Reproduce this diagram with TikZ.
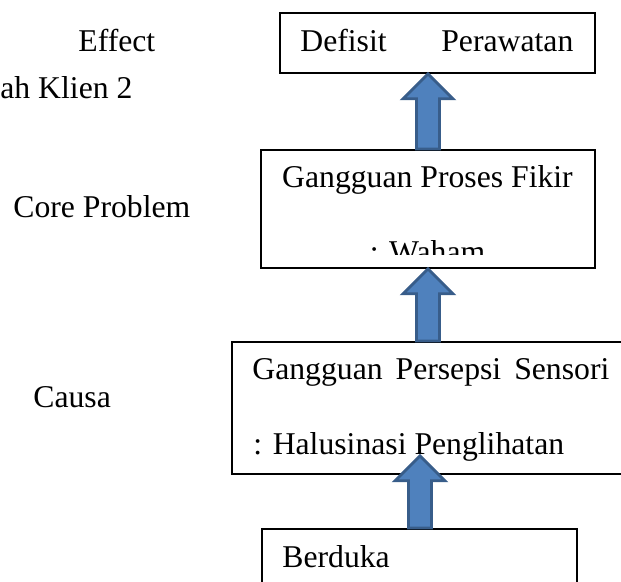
\documentclass[tikz,border=0pt]{standalone}
\usepackage{fontspec}
\setmainfont{Liberation Serif}
\usetikzlibrary{calc}

\definecolor{arrfill}{RGB}{79,129,189}
\definecolor{arrline}{RGB}{56,93,138}

% block arrow pointing up: #1 = tail, #2 = tip
\newcommand{\uparr}[2]{%
  \draw[blockarr] ($(#1)+(-11.5,0)$) -- ($(#2)+(-11.5,25)$) -- ($(#2)+(-25,25)$)
    -- (#2) -- ($(#2)+(25,25)$) -- ($(#2)+(11.5,25)$) -- ($(#1)+(11.5,0)$) -- cycle;}

\begin{document}
\begin{tikzpicture}[
    x=0.5pt, y=-0.5pt,
    box/.style={draw, line width=0.9pt, inner sep=0pt},
    lbl/.style={font=\fontsize{15.85}{19}\selectfont, inner sep=0pt},
    blockarr/.style={fill=arrfill, draw=arrline, line width=1.4pt, line join=miter}
]
  \useasboundingbox (0,0) rectangle (621,582);
  \clip (0,0) rectangle (621,582);
  % Side labels
  \node[lbl, anchor=base west] (effect) at (78,52) {Effect};
  \node[lbl, anchor=base west] (klien) at (0,99) {ah Klien 2};
  \node[lbl, anchor=base west] (core) at (13,218) {Core Problem};
  \node[lbl, anchor=base west] (causa) at (33,408) {Causa};
  % Boxes
  \node[box, anchor=north west, minimum width=157.5pt, minimum height=30pt] (defisit) at (279,12) {};
  \node[box, anchor=north west, minimum width=167pt, minimum height=59pt] (proses) at (260,149) {};
  \node[box, anchor=north west, minimum width=199.5pt, minimum height=66pt] (persepsi) at (231,341) {};
  \node[box, anchor=north west, minimum width=157.5pt, minimum height=40pt] (berduka) at (261,528) {};
  % Box texts
  \node[lbl, anchor=base west, text width=136.5pt] (defisittxt) at (300,52) {\noindent Defisit\hfill Perawatan};
  \node[lbl, anchor=base] (prosestxt) at (427.5,188) {Gangguan Proses Fikir};
  \begin{scope}
    \clip (260,149) rectangle (594,255);
    \node[lbl, anchor=base] (wahamtxt) at (427.5,263) {: Waham};
  \end{scope}
  \node[lbl, anchor=base west, text width=178.5pt] (persepsitxt) at (252,380) {\noindent Gangguan\hfill Persepsi\hfill Sensori};
  \node[lbl, anchor=base west] (halutxt) at (253,455) {: Halusinasi Penglihatan};
  \node[lbl, anchor=base west] (berdukatxt) at (282,567) {Berduka};
  % Arrows
  \coordinate (c1) at (428,0);
  \coordinate (c3) at (420,0);
  \coordinate (tip3) at ($(c3 |- persepsi.south)+(0,-19)$);
  \uparr{c1 |- proses.north}{c1 |- defisit.south}
  \uparr{c1 |- persepsi.north}{c1 |- proses.south}
  \uparr{c3 |- berduka.north}{tip3}
\end{tikzpicture}
\end{document}
